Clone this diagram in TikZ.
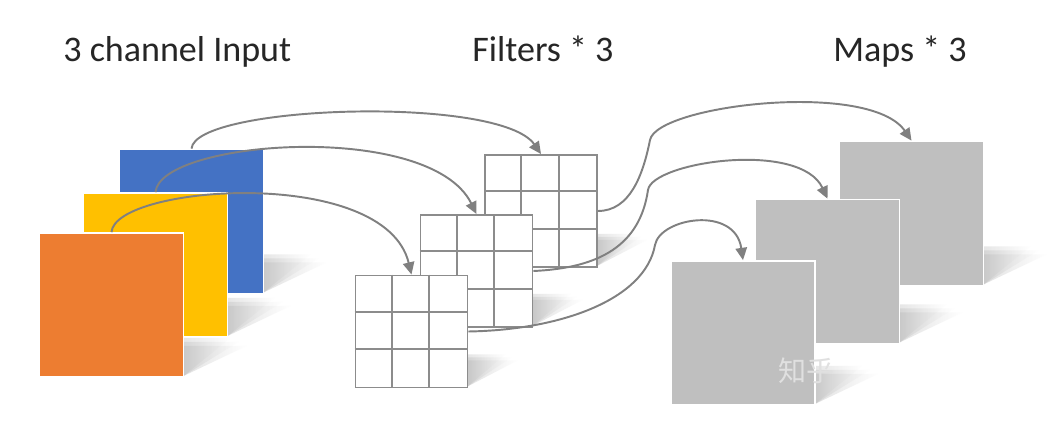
\documentclass[tikz,border=0pt]{standalone}
\usepackage{fontspec}
\setmainfont{Carlito}
\newfontfamily\cjk{Noto Sans CJK SC}
\usetikzlibrary{arrows.meta}
\definecolor{inblue}{HTML}{4472C4}
\definecolor{inyellow}{HTML}{FFC000}
\definecolor{inorange}{HTML}{ED7D31}
\definecolor{mapgray}{HTML}{BFBFBF}
\definecolor{linegray}{HTML}{808080}
\definecolor{gridgray}{HTML}{8C8C8C}

\begin{document}
\begin{tikzpicture}[x=0.02cm, y=-0.02cm,
	title/.style={font=\fontsize{20.5}{25}\selectfont, text=black!85, anchor=base west, inner sep=0pt},
	sheet/.style={draw=white, line width=1pt, minimum size=2.88cm, inner sep=0pt},
	filt/.style={draw=gridgray, fill=white, line width=1.1pt, minimum size=2.24cm, inner sep=0pt},
	shadowfill/.style={left color=black!55, right color=white, opacity=0.4},
	link/.style={draw=linegray, line width=1.1pt, -{Triangle[length=7pt,width=6.5pt]}}]
	\fill[white] (0,0) rectangle (1061,421);
	\useasboundingbox (0,0) rectangle (1061,421);
	\node[title] (tin) at (63,62) {3 channel Input};
	\node[title] (tfilt) at (472,62) {Filters * 3};
	\node[title] (tmap) at (833,62) {Maps * 3};
	\foreach \x/\y/\c/\n in {191.5/221.5/inblue/in1, 155.5/265/inyellow/in2, 111.5/305/inorange/in3}{
		\foreach \s in {-4,0,4}
			\shade[shadowfill] (\x+12,\y+71) -- (\x+72,\y+71) -- (\x+127+2*\s,\y+37+\s) -- (\x+67,\y+37+\s) -- cycle;
		\node[sheet, fill=\c] (\n) at (\x,\y) {};
	}
	\foreach \x/\y/\n in {541/211/f1, 476.5/271/f2, 411.5/331.5/f3}{
		\foreach \s in {-3,0,3}
			\shade[shadowfill] (\x+10,\y+55) -- (\x+56,\y+55) -- (\x+100+2*\s,\y+26+\s) -- (\x+54,\y+26+\s) -- cycle;
		\node[filt] (\n) at (\x,\y) {};
		\foreach \k in {1,2}
			\draw[gridgray, line width=1.1pt] ([xshift=\k*2.24cm/3]\n.north west) -- ([xshift=\k*2.24cm/3]\n.south west)
				([yshift=-\k*2.24cm/3]\n.north west) -- ([yshift=-\k*2.24cm/3]\n.north east);
	}
	\foreach \x/\y/\n in {911.5/213.5/m1, 827.5/271.5/m2, 743/333/m3}{
		\foreach \s in {-4,0,4}
			\shade[shadowfill] (\x+12,\y+71) -- (\x+72,\y+71) -- (\x+127+2*\s,\y+37+\s) -- (\x+67,\y+37+\s) -- cycle;
		\node[sheet, fill=mapgray] (\n) at (\x,\y) {};
	}
	\node[font=\cjk\fontsize{16}{16}\selectfont, text=white!88!black, anchor=west, inner sep=0pt] (zh) at (778,371) {知乎};
	\draw[link] (in1.north) .. controls (195,105) and (500,95) .. (f1.north);
	\draw[link] (in2.north) .. controls (160,140) and (430,120) .. (f2.north);
	\draw[link] (in3.north) .. controls (115,185) and (385,165) .. (f3.north);
	\draw[link] (f1.east) .. controls (630,211) and (643,175) .. (650,140) .. controls (657,105) and (870,80) .. (m1.north);
	\draw[link] (f2.east) .. controls (600,268) and (640,245) .. (648,190) .. controls (652,162) and (800,140) .. (m2.north);
	\draw[link] (f3.east) .. controls (560,330) and (645,300) .. (655,245) .. controls (660,218) and (735,205) .. (m3.north);
\end{tikzpicture}
\end{document}
